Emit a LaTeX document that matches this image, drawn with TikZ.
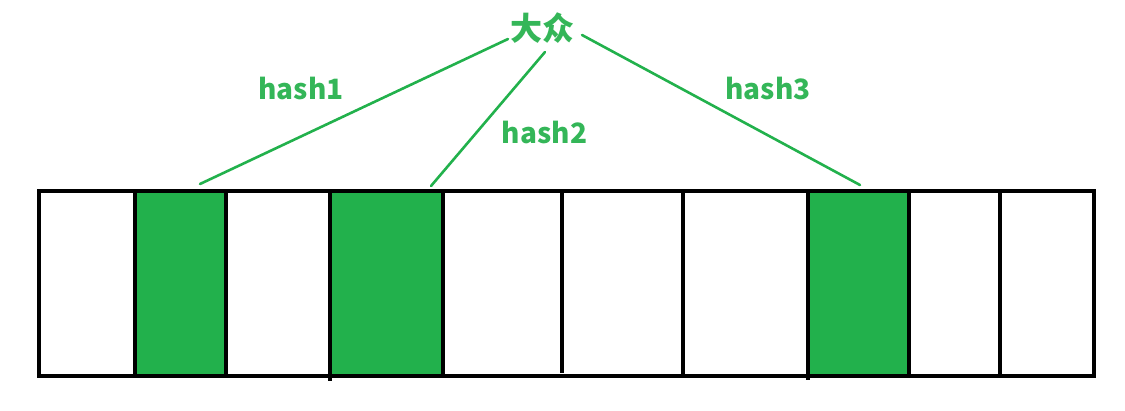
\documentclass[tikz,border=0pt]{standalone}
\usepackage{fontspec}
\newfontfamily\cjk{Noto Sans CJK SC}
\definecolor{pgreen}{RGB}{34,177,76}
\definecolor{tgreen}{RGB}{52,182,88}
\begin{document}
\begin{tikzpicture}[x=1pt,y=-1pt,
  cellfill/.style={fill=pgreen,draw=none,inner sep=0pt,minimum height=185pt},
  grid/.style={line width=3.6pt,draw=black},
  hashline/.style={draw=pgreen,line width=2.6pt,line cap=round},
  lbl/.style={text=tgreen,font=\cjk\bfseries\fontsize{28}{30}\selectfont,inner sep=0pt,anchor=base}]
\useasboundingbox (0,0) rectangle (1125,410);
% green cells
\node[cellfill,minimum width=91pt] (c2) at (180.5,283.5) {};
\node[cellfill,minimum width=113pt] (c4) at (386.5,283.5) {};
\node[cellfill,minimum width=101pt] (c8) at (858.5,283.5) {};
% outer frame and dividers
\draw[grid] (39,191) rectangle (1094,376);
\foreach \x in {135,226,443,683,909,1000} \draw[grid] (\x,191) -- (\x,376);
\draw[grid] (330,191) -- (330,381);
\draw[grid] (808,191) -- (808,380);
\draw[grid] (562,191) -- (562,373);
% labels
\node[text=tgreen,font=\cjk\bfseries\fontsize{32}{34}\selectfont,inner sep=0pt] (dz) at (542,28) {大众};
\node[lbl] (h1) at (301,99) {hash1};
\node[lbl] (h2) at (544.5,143) {hash2};
\node[lbl] (h3) at (768,99) {hash3};
% connectors
\coordinate (s1) at (508,39);
\coordinate (s2) at (545,52);
\coordinate (s3) at (582,35);
\coordinate (e1) at (200,184);
\coordinate (e2) at (431,186);
\coordinate (e3) at (860,185);
\draw[hashline] (s1) -- (e1);
\draw[hashline] (s2) -- (e2);
\draw[hashline] (s3) -- (e3);
\end{tikzpicture}
\end{document}
